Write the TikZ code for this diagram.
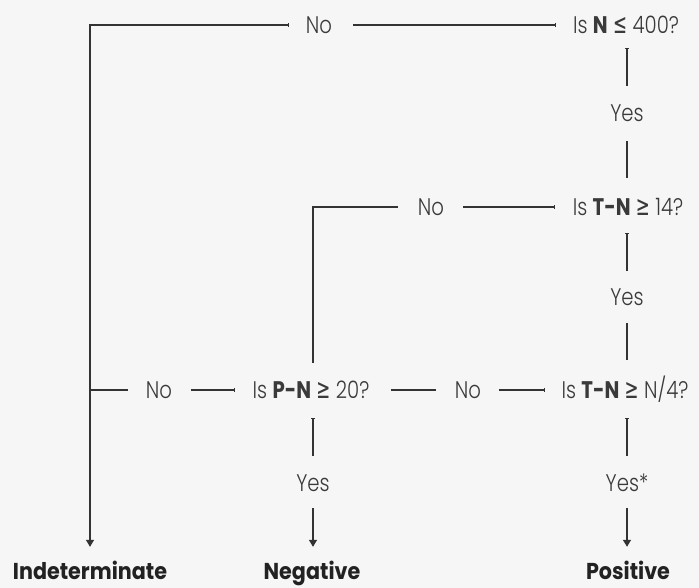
\documentclass[tikz,border=0pt]{standalone}
\usepackage{fontspec}
\usepackage{graphicx}
\setmainfont{Poppins}[UprightFont={* Light}, BoldFont={* Bold}, FakeStretch=0.82]
\newfontfamily\outfont{Poppins}[UprightFont={* Bold}, FakeStretch=0.9]
\newfontfamily\symf{DejaVu Sans}
\newcommand\gesym{\resizebox{14pt}{16pt}{\symf ≥}}
\newcommand\lesym{\resizebox{14pt}{16pt}{\symf ≤}}
\usetikzlibrary{arrows.meta}
\definecolor{bg}{HTML}{F6F6F6}
\definecolor{txt}{HTML}{3A3A3A}
\definecolor{dark}{HTML}{222222}
\definecolor{ln}{HTML}{333333}
\begin{document}
\begin{tikzpicture}[x=1pt,y=-1pt,
  lbl/.style={inner sep=0pt, text height=17pt, text depth=0pt, font=\fontsize{24}{24}\selectfont, text=txt},
  outc/.style={inner sep=0pt, text height=16pt, text depth=0pt, font=\outfont\fontsize{23}{23}\selectfont, text=dark},
  conn/.style={draw=ln, line width=1.3pt},
  tk/.tip={Bar[width=3.5pt,line width=1pt]},
  tri/.tip={Triangle[width=8pt,length=7pt]}
]
\fill[bg] (0,0) rectangle (699,588);
\useasboundingbox (0,0) rectangle (699,588);

% question nodes
\node[lbl] (q1) at (626,25) {Is \textbf{N} \lesym{} 400?};
\node[lbl] (q2) at (628,207) {Is \textbf{T-N} \gesym{} 14?};
\node[lbl] (q3) at (625,390) {Is \textbf{T-N} \gesym{} N/4?};
\node[lbl] (q4) at (311,390) {Is \textbf{P-N} \gesym{} 20?};
% labels
\node[lbl] (no1) at (319,25) {No};
\node[lbl] (no2) at (431,207) {No};
\node[lbl] (no3) at (159,390) {No};
\node[lbl] (no4) at (468,390) {No};
\node[lbl] (yes1) at (627,113) {Yes};
\node[lbl] (yes2) at (627,297) {Yes};
\node[lbl] (yes3) at (313,483) {Yes};
\node[lbl] (yes4) at (627,483) {Yes*};
% outcomes
\node[outc] (ind) at (90,571) {Indeterminate};
\node[outc] (neg) at (312,571) {Negative};
\node[outc] (pos) at (628,571) {Positive};
% corners
\coordinate (c1) at (90,25);
\coordinate (c2) at (313,207);
\coordinate (j3) at (90,390);

% connectors
\draw[conn, {tk}-{tri}, shorten <=17pt, shorten >=16pt] (no1.west) -- (c1) -- (ind.north -| c1);
\draw[conn, {tk}-, shorten <=17pt, shorten >=21pt] (q1.west) -- (no1.east);
\draw[conn, {tk}-, shorten <=14.5pt, shorten >=18.5pt] (q1.south -| yes1) -- (yes1.north);
\draw[conn, shorten <=19.5pt, shorten >=20.5pt] (yes1.south) -- (q2.north -| yes1);
\draw[conn, {tk}-, shorten <=18pt, shorten >=19pt] (q2.west) -- (no2.east);
\draw[conn, shorten <=20pt, shorten >=18.5pt] (no2.west) -- (c2) -- (q4.north -| c2);
\draw[conn, {tk}-, shorten <=17.5pt, shorten >=17.5pt] (q2.south -| yes2) -- (yes2.north);
\draw[conn, shorten <=17.5pt, shorten >=21.5pt] (yes2.south) -- (q3.north -| yes2);
\draw[conn, {tk}-, shorten <=16pt, shorten >=18pt] (q3.west) -- (no4.east);
\draw[conn, shorten <=19pt, shorten >=21pt] (no4.west) -- (q4.east);
\draw[conn, {tk}-, shorten <=17pt, shorten >=19pt] (q4.west) -- (no3.east);
\draw[conn, shorten <=18pt] (no3.west) -- (j3);
\draw[conn, {tk}-, shorten <=19.5pt, shorten >=18.5pt] (q4.south -| yes3) -- (yes3.north);
\draw[conn, -{tri}, shorten <=16.5pt, shorten >=16pt] (yes3.south) -- (neg.north -| yes3);
\draw[conn, {tk}-, shorten <=19.5pt, shorten >=18.5pt] (q3.south -| yes4) -- (yes4.north);
\draw[conn, -{tri}, shorten <=16.5pt, shorten >=16pt] (yes4.south) -- (pos.north -| yes4);
\end{tikzpicture}
\end{document}
